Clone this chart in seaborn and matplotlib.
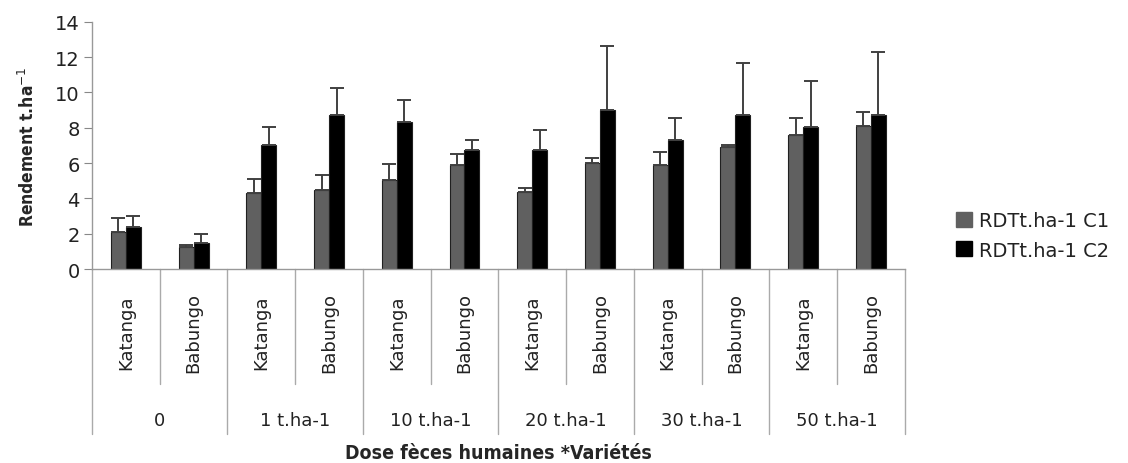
import pandas as pd
import matplotlib
matplotlib.use("Agg")
import matplotlib.pyplot as plt
import seaborn as sns
from matplotlib.patches import Patch

################################################
# Data
################################################

doses = ["0", "1 t.ha-1", "10 t.ha-1", "20 t.ha-1", "30 t.ha-1", "50 t.ha-1"]
varieties = ["Katanga", "Babungo"]

c1_values = [2.08, 1.26, 4.30, 4.49, 5.06, 5.89, 4.36, 6.02, 5.89, 6.91, 7.60, 8.11]
c1_errors = [0.81, 0.10, 0.81, 0.81, 0.88, 0.62, 0.24, 0.28, 0.73, 0.09, 0.95, 0.80]
c2_values = [2.40, 1.45, 7.04, 8.74, 8.30, 6.72, 6.72, 8.98, 7.28, 8.74, 8.04, 8.74]
c2_errors = [0.62, 0.55, 1.00, 1.51, 1.25, 0.60, 1.17, 3.66, 1.27, 2.90, 2.58, 3.54]

series = ["RDTt.ha-1 C1", "RDTt.ha-1 C2"]
colors = ["#606060", "#000000"]

categories = [d + "|" + v for d in doses for v in varieties]

df = pd.DataFrame({
    "cat": categories * 2,
    "serie": [series[0]] * len(categories) + [series[1]] * len(categories),
    "val": c1_values + c2_values,
    "err": c1_errors + c2_errors,
})

################################################
# Plot
################################################

sns.set_style("white")
plt.rcParams["font.family"] = ["DejaVu Sans"]

fig = plt.figure(figsize=(11.28, 4.64), dpi=100)
ax = fig.add_axes([0.0816, 0.418, 0.7204, 0.533])

sns.barplot(data=df, x="cat", y="val", hue="serie", order=categories,
            hue_order=series, palette=colors, width=0.44, errorbar=None,
            edgecolor="#202020", linewidth=0.8, legend=False, ax=ax)

# one-sided error bars from bar centres
for i, s in enumerate(series):
    sub = df[df["serie"] == s]
    bars = ax.containers[i]
    xs = [b.get_x() + b.get_width() / 2 for b in bars]
    ax.errorbar(xs, sub["val"], yerr=[[0] * len(sub), sub["err"]], fmt="none",
                ecolor="#404040", elinewidth=1.4, capsize=5, capthick=1.4)

ax.set_ylim(0, 14)
ax.set_xlim(-0.5, len(categories) - 0.5)
ax.set_yticks(range(0, 15, 2))
ax.tick_params(axis="y", labelsize=14, length=6, width=0.8, color="#888888",
               left=True, pad=3, labelcolor="#222222")
ax.tick_params(axis="x", bottom=False, labelbottom=False)
ax.set_xlabel("")
ax.set_ylabel("Rendement t.ha$^{-1}$", fontsize=12.5, fontweight="bold",
              fontstretch="condensed", labelpad=12)
for side in ["top", "right"]:
    ax.spines[side].set_visible(False)
for side in ["left", "bottom"]:
    ax.spines[side].set_color("#999999")
    ax.spines[side].set_linewidth(1)

# multi-level category axis
trans = ax.get_xaxis_transform()
for i, cat in enumerate(categories):
    d, v = cat.split("|")
    ax.text(i, -0.255, v, rotation=90, ha="center", va="center",
            fontsize=13, color="#222222", transform=trans)
for k in range(len(categories) + 1):
    x = k - 0.5
    bottom = -0.667 if k % 2 == 0 else -0.465
    ax.plot([x, x], [0, bottom], color="#aaaaaa", lw=1,
            transform=trans, clip_on=False)
for j, d in enumerate(doses):
    ax.text(2 * j + 0.5, -0.61, d, ha="center", va="center",
            fontsize=13, color="#222222", transform=trans)
ax.text(0.5, -0.74, "Dose fèces humaines *Variétés", ha="center", va="center",
        fontsize=14, fontweight="bold", fontstretch="condensed",
        transform=ax.transAxes)

handles = [Patch(facecolor=c, edgecolor=c) for c in colors]
fig.legend(handles, series, loc="center left", bbox_to_anchor=(0.832, 0.491),
           frameon=False, fontsize=14, handlelength=0.8, handleheight=0.8,
           handletextpad=0.4, labelspacing=0.55, labelcolor="#222222")

fig.savefig("out.png", dpi=100)
